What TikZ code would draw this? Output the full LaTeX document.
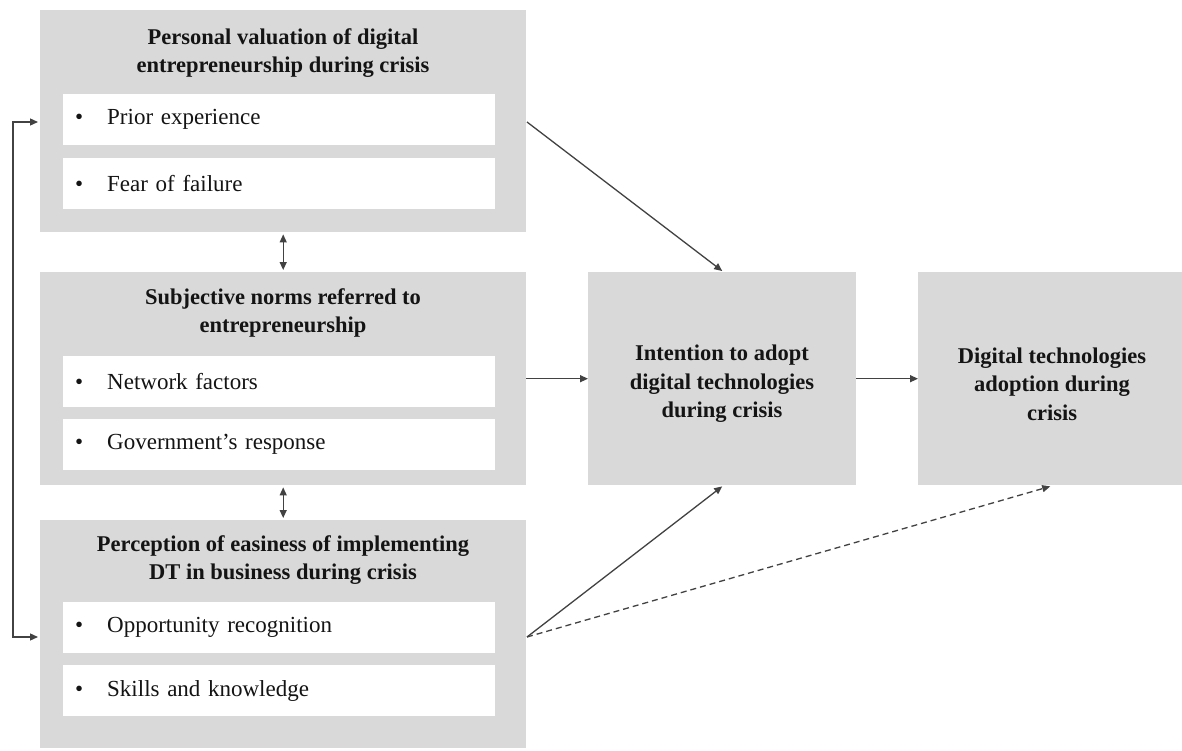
\documentclass[tikz,border=0pt]{standalone}
\usepackage{fontspec}
\setmainfont{Liberation Serif}
\usetikzlibrary{arrows.meta}
\definecolor{boxgray}{RGB}{217,217,217}
\definecolor{linecol}{RGB}{66,66,66}
\definecolor{txt}{RGB}{20,20,20}
\begin{document}
\begin{tikzpicture}[x=1pt,y=-1pt,
  graybox/.style={fill=boxgray, draw=none, inner sep=0pt, anchor=north west},
  bar/.style={fill=white, draw=none, anchor=north west, minimum height=51pt,
    inner xsep=12pt, inner ysep=0pt, text width=408pt, align=left, text=txt,
    font=\fontsize{23}{26}\selectfont},
  ttl/.style={font=\bfseries\fontsize{22.5}{28.5}\selectfont, align=center, text=txt, inner sep=0pt},
  conn/.style={draw=linecol, line width=1.3pt, -{Triangle[length=8pt,width=7pt]}},
  dconn/.style={draw=linecol, line width=1.3pt, {Triangle[length=8pt,width=7pt]}-{Triangle[length=8pt,width=7pt]}},
  dashconn/.style={conn, dash pattern=on 6pt off 4pt}]
\fill[white] (0,0) rectangle (1182,751);
\useasboundingbox (0,0) rectangle (1182,751);
\newcommand{\itm}[1]{\makebox[32pt][l]{\textbullet}#1}
% left column boxes
\node[graybox, minimum width=486pt, minimum height=222pt] (b1) at (40,10) {};
\node[graybox, minimum width=486pt, minimum height=213pt] (b2) at (40,272) {};
\node[graybox, minimum width=486pt, minimum height=228pt] (b3) at (40,520) {};
% titles
\node[ttl] (t1) at (283,53) {Personal valuation of digital\\entrepreneurship during crisis};
\node[ttl] (t2) at (283,313) {Subjective norms referred to\\entrepreneurship};
\node[ttl] (t3) at (283,560) {Perception of easiness of implementing\\DT in business during crisis};
% bars
\node[bar] (b1a) at (63,94) {\itm{Prior experience}};
\node[bar] (b1b) at (63,158) {\itm{Fear of failure}};
\node[bar] (b2a) at (63,356) {\itm{Network factors}};
\node[bar] (b2b) at (63,419) {\itm{Government’s response}};
\node[bar] (b3a) at (63,602) {\itm{Opportunity recognition}};
\node[bar] (b3b) at (63,665) {\itm{Skills and knowledge}};
% right boxes
\node[graybox, minimum width=268pt, minimum height=213pt] (int) at (588,272) {};
\node[ttl] (intl) at (722,384) {Intention to adopt\\digital technologies\\during crisis};
\node[graybox, minimum width=264pt, minimum height=213pt] (ado) at (918,272) {};
\node[ttl] (adol) at (1052,384) {Digital technologies\\adoption during\\crisis};
% coordinates
\coordinate (s1) at (527,122);
\coordinate (s3) at (527,637);
\coordinate (fb) at (13,380);
% connectors
\draw[conn] (s1) -- ([yshift=1pt]int.north);
\draw[conn] (b2.east |- int.west) -- (int.west);
\draw[conn] (int.east) -- (ado.west);
\draw[conn] (s3) -- ([yshift=-1pt]int.south);
\draw[dashconn] (s3) -- ([yshift=-1pt]ado.south);
\draw[dconn] ([yshift=-2pt]b1.south) -- ([yshift=2pt]b2.north);
\draw[dconn] ([yshift=-2pt]b2.south) -- ([yshift=2pt]b3.north);
\draw[dconn] ([xshift=-2pt]b1.west |- s1) -- (fb |- s1) -- (fb |- s3) -- ([xshift=-2pt]b3.west |- s3);
\end{tikzpicture}
\end{document}
